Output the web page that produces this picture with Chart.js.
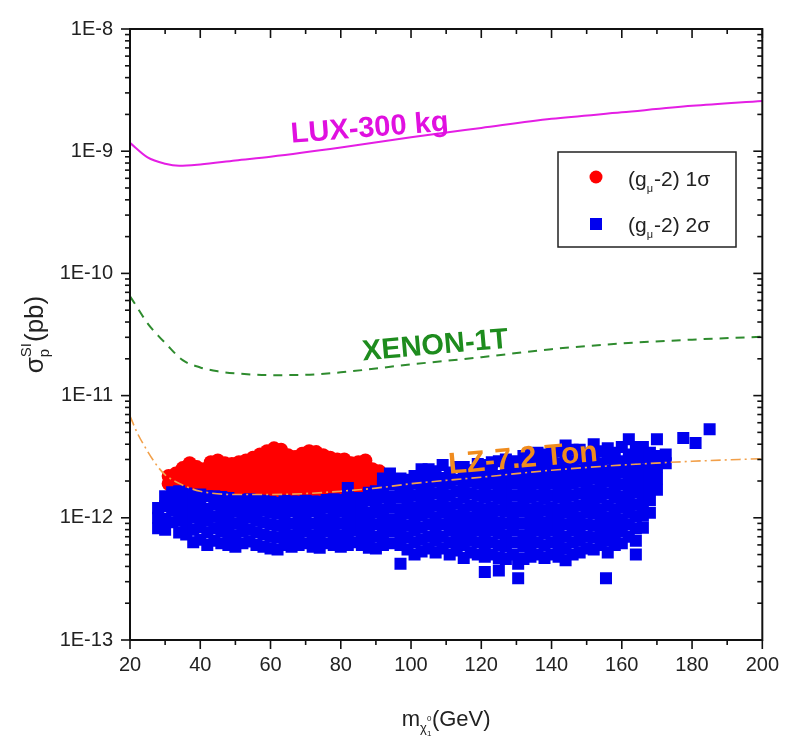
<!DOCTYPE html>
<html>
<head>
<meta charset="utf-8">
<script src="https://cdn.jsdelivr.net/npm/chart.js@4.4.1/dist/chart.umd.min.js"></script>
<style>
  html, body { margin: 0; background: #fff; }
  #wrap { width: 792px; height: 744px; }
</style>
</head>
<body>
<div id="wrap"><canvas id="chart" width="792" height="744"></canvas></div>
<script>
const FONT = '"Liberation Sans", Arial, sans-serif';

// axes
const X_MIN = 20, X_MAX = 200;
const X_TICKS = [20, 40, 60, 80, 100, 120, 140, 160, 180, 200];
const Y_DECADES = [1e-13, 1e-12, 1e-11, 1e-10, 1e-9, 1e-8];
const Y_LABELS = ['1E-13', '1E-12', '1E-11', '1E-10', '1E-9', '1E-8'];

// experimental limits (pb)
const LUX_X = [20, 25, 30, 34, 40, 50, 60, 80, 100, 120, 140, 160, 180, 200];
const LUX_Y = [1.17e-9, 8.9e-10, 7.9e-10, 7.6e-10, 7.8e-10, 8.4e-10, 9.0e-10, 1.07e-9, 1.3e-9, 1.55e-9, 1.84e-9, 2.08e-9, 2.35e-9, 2.58e-9];

const XENON_X = [20, 22, 25, 28, 30, 35, 40, 45, 50, 60, 70, 80, 100, 120, 140, 160, 180, 200];
const XENON_Y = [6.5e-11, 5.3e-11, 3.9e-11, 3.1e-11, 2.7e-11, 1.95e-11, 1.7e-11, 1.58e-11, 1.52e-11, 1.47e-11, 1.48e-11, 1.55e-11, 1.8e-11, 2.06e-11, 2.4e-11, 2.67e-11, 2.87e-11, 3.03e-11];

const LZ_X = [20, 22, 25, 28, 30, 35, 40, 50, 60, 70, 80, 90, 100, 120, 140, 160, 180, 200];
const LZ_Y = [6.8e-12, 5.0e-12, 3.5e-12, 2.6e-12, 2.25e-12, 1.85e-12, 1.65e-12, 1.55e-12, 1.55e-12, 1.58e-12, 1.65e-12, 1.75e-12, 1.9e-12, 2.15e-12, 2.45e-12, 2.7e-12, 2.9e-12, 3.05e-12];

// scan points: [mass, [sigma values in units of 1E-12 pb]]
const UNIT = 1e-12;
const RED_COLUMNS = [
  [31, [1.9, 2.2]],
  [33, [1.9, 2.3]],
  [35, [1.85, 2.2, 2.55]],
  [37, [1.9, 2.3, 2.8]],
  [39, [1.85, 2.2, 2.6]],
  [41, [1.8, 2.15, 2.5]],
  [43, [1.75, 2.1, 2.5, 2.85]],
  [45, [1.7, 2.05, 2.45, 2.95]],
  [47, [1.75, 2.1, 2.5, 2.8]],
  [49, [1.7, 2.0, 2.4, 2.75]],
  [51, [1.65, 2.0, 2.4, 2.85]],
  [53, [1.7, 2.05, 2.45, 2.95]],
  [55, [1.6, 1.95, 2.35, 2.8, 3.1]],
  [57, [1.55, 1.9, 2.3, 2.75, 3.3]],
  [59, [1.6, 1.95, 2.35, 2.8, 3.5]],
  [61, [1.55, 1.9, 2.3, 2.75, 3.2, 3.7]],
  [63, [1.6, 1.95, 2.35, 2.8, 3.3, 3.6]],
  [65, [1.55, 1.9, 2.3, 2.75, 3.25]],
  [67, [1.5, 1.85, 2.2, 2.65, 3.15]],
  [69, [1.55, 1.9, 2.3, 2.75, 3.35]],
  [71, [1.5, 1.85, 2.25, 2.7, 3.2, 3.5]],
  [73, [1.45, 1.8, 2.2, 2.65, 3.15, 3.45]],
  [75, [1.5, 1.85, 2.25, 2.7, 3.25]],
  [77, [1.4, 1.75, 2.15, 2.6, 3.1]],
  [79, [1.55, 1.9, 2.3, 2.75, 3.0]],
  [81, [1.6, 1.95, 2.35, 2.8, 3.0]],
  [83, [1.65, 2.0, 2.4, 2.8]],
  [85, [1.6, 1.95, 2.35, 2.85]],
  [87, [1.7, 2.05, 2.45, 2.95]],
  [89, [1.75, 2.1, 2.5]],
  [91, [1.8, 2.1, 2.4]],
];
const BLUE_COLUMNS = [
  [28, [0.82, 1.0, 1.2]],
  [30, [0.8, 0.98, 1.25, 1.5]],
  [32, [0.92, 1.15, 1.42, 1.62]],
  [34, [0.76, 0.95, 1.18, 1.45, 1.65]],
  [36, [0.73, 0.9, 1.1, 1.35, 1.58]],
  [38, [0.63, 0.8, 1.0, 1.25, 1.52]],
  [40, [0.66, 0.84, 1.05, 1.3, 1.55]],
  [42, [0.6, 0.76, 0.95, 1.18, 1.5]],
  [44, [0.65, 0.82, 1.02, 1.28, 1.5]],
  [46, [0.62, 0.78, 0.98, 1.22, 1.48]],
  [48, [0.6, 0.75, 0.94, 1.17, 1.45]],
  [50, [0.58, 0.72, 0.9, 1.12, 1.4]],
  [52, [0.62, 0.78, 0.98, 1.22, 1.4]],
  [54, [0.64, 0.8, 1.0, 1.2, 1.42]],
  [56, [0.6, 0.76, 0.95, 1.18, 1.4]],
  [58, [0.58, 0.73, 0.92, 1.15, 1.38]],
  [60, [0.56, 0.7, 0.88, 1.1, 1.35]],
  [62, [0.55, 0.69, 0.86, 1.08, 1.32]],
  [64, [0.6, 0.75, 0.94, 1.17, 1.38]],
  [66, [0.58, 0.72, 0.9, 1.13, 1.36]],
  [68, [0.6, 0.75, 0.94, 1.18, 1.35]],
  [70, [0.62, 0.78, 0.97, 1.2, 1.38]],
  [72, [0.58, 0.72, 0.9, 1.13, 1.36]],
  [74, [0.57, 0.71, 0.89, 1.11, 1.35]],
  [76, [0.62, 0.78, 0.97, 1.21, 1.4]],
  [78, [0.6, 0.75, 0.93, 1.16, 1.42]],
  [80, [0.58, 0.72, 0.9, 1.12, 1.4]],
  [82, [0.6, 0.75, 0.94, 1.17, 1.42, 1.75]],
  [84, [0.63, 0.79, 0.98, 1.22, 1.45]],
  [86, [0.6, 0.75, 0.94, 1.17, 1.45]],
  [88, [0.57, 0.71, 0.89, 1.11, 1.4, 1.6]],
  [90, [0.56, 0.7, 0.88, 1.1, 1.37, 1.65]],
  [92, [0.6, 0.75, 0.94, 1.17, 1.46, 1.82, 2.1]],
  [94, [0.62, 0.78, 0.97, 1.21, 1.5, 1.88, 2.3]],
  [97, [0.42, 0.6, 0.75, 0.94, 1.17, 1.46, 1.82, 2.1]],
  [99, [0.55, 0.69, 0.86, 1.08, 1.35, 1.68, 2.05]],
  [101, [0.5, 0.63, 0.79, 0.98, 1.22, 1.52, 1.9, 2.2]],
  [103, [0.53, 0.66, 0.83, 1.04, 1.3, 1.62, 2.0, 2.5]],
  [105, [0.56, 0.7, 0.88, 1.1, 1.37, 1.7, 2.12, 2.5]],
  [107, [0.52, 0.65, 0.81, 1.01, 1.26, 1.58, 1.97, 2.4]],
  [109, [0.56, 0.7, 0.88, 1.1, 1.37, 1.7, 2.12, 2.7]],
  [111, [0.5, 0.63, 0.79, 0.98, 1.22, 1.52, 1.9, 2.35]],
  [113, [0.54, 0.67, 0.84, 1.05, 1.31, 1.64, 2.05, 2.6]],
  [115, [0.47, 0.6, 0.75, 0.94, 1.17, 1.46, 1.82, 2.25, 2.6]],
  [117, [0.52, 0.65, 0.81, 1.01, 1.26, 1.58, 1.97, 2.45]],
  [119, [0.5, 0.63, 0.79, 0.98, 1.22, 1.52, 1.9, 2.35, 2.75]],
  [121, [0.36, 0.48, 0.6, 0.75, 0.94, 1.17, 1.46, 1.82, 2.25, 2.7]],
  [123, [0.5, 0.63, 0.79, 0.98, 1.22, 1.52, 1.9, 2.35, 2.85]],
  [125, [0.37, 0.47, 0.59, 0.74, 0.92, 1.15, 1.43, 1.78, 2.2, 2.9]],
  [127, [0.46, 0.58, 0.72, 0.9, 1.12, 1.4, 1.75, 2.18, 2.7, 3.0]],
  [129, [0.5, 0.63, 0.79, 0.98, 1.22, 1.52, 1.9, 2.35, 2.9]],
  [130.5, [0.32, 0.42]],
  [132, [0.46, 0.58, 0.72, 0.9, 1.12, 1.4, 1.75, 2.18, 2.7, 3.2]],
  [134, [0.48, 0.6, 0.75, 0.94, 1.17, 1.46, 1.82, 2.25, 2.8, 3.3]],
  [136, [0.5, 0.63, 0.79, 0.98, 1.22, 1.52, 1.9, 2.35, 2.9, 3.4]],
  [138, [0.47, 0.59, 0.74, 0.92, 1.15, 1.43, 1.78, 2.2, 2.75, 3.3]],
  [140, [0.5, 0.63, 0.79, 0.98, 1.22, 1.52, 1.9, 2.35, 2.9, 3.5]],
  [142, [0.48, 0.6, 0.75, 0.94, 1.17, 1.46, 1.82, 2.25, 2.8, 3.5]],
  [144, [0.45, 0.56, 0.7, 0.88, 1.1, 1.37, 1.7, 2.12, 2.65, 3.3, 3.9]],
  [146, [0.5, 0.63, 0.79, 0.98, 1.22, 1.52, 1.9, 2.35, 2.9, 3.6]],
  [148, [0.52, 0.65, 0.81, 1.01, 1.26, 1.58, 1.97, 2.45, 3.05, 3.6]],
  [150, [0.56, 0.7, 0.88, 1.1, 1.37, 1.7, 2.12, 2.65, 3.3]],
  [152, [0.55, 0.69, 0.86, 1.08, 1.35, 1.68, 2.1, 2.6, 3.2, 4.0]],
  [154, [0.6, 0.75, 0.94, 1.17, 1.46, 1.82, 2.25, 2.8, 3.5]],
  [155.5, [0.32]],
  [156, [0.52, 0.65, 0.81, 1.01, 1.26, 1.58, 1.97, 2.45, 3.05, 3.7]],
  [158, [0.6, 0.75, 0.94, 1.17, 1.46, 1.82, 2.25, 2.8, 3.4]],
  [160, [0.62, 0.78, 0.97, 1.21, 1.5, 1.88, 2.35, 2.9, 3.8]],
  [162, [0.7, 0.88, 1.1, 1.37, 1.7, 2.12, 2.65, 3.3, 4.4]],
  [164, [0.5, 0.65, 0.82, 1.03, 1.28, 1.6, 2.0, 2.5, 3.1, 3.8]],
  [166, [0.83, 1.04, 1.3, 1.62, 2.0, 2.5, 3.1, 3.8]],
  [168, [1.1, 1.4, 1.75, 2.2, 2.75, 3.4]],
  [170, [1.7, 2.1, 2.6, 3.2, 4.4]],
  [172.5, [2.8, 3.3]],
  [177.5, [4.5]],
  [181, [4.1]],
  [185, [5.3]],
];

const pts = (xs, ys) => xs.map((x, i) => ({ x, y: ys[i] }));
const cols = c => c.flatMap(([x, ys]) => ys.map(v => ({ x, y: v * UNIT })));

// ── curve labels, frame, ticks, titles, legend ─────────────────────────────
const decor = {
  id: 'decor',
  afterDraw(chart) {
    const { ctx, chartArea: a, scales: { x, y } } = chart;
    ctx.save();

    function curveLabel(text, xv, yv, deg, color, size) {
      ctx.save();
      ctx.translate(x.getPixelForValue(xv), y.getPixelForValue(yv));
      ctx.rotate(deg * Math.PI / 180);
      ctx.font = `bold ${size}px ${FONT}`;
      ctx.fillStyle = color;
      ctx.textAlign = 'left';
      ctx.textBaseline = 'alphabetic';
      ctx.fillText(text, 0, 0);
      ctx.restore();
    }
    curveLabel('LUX-300 kg', 66, 1.17e-9, -4.5, '#e010e0', 29);
    curveLabel('XENON-1T', 86.3, 1.94e-11, -5, '#1e8c1e', 29);
    curveLabel('LZ-7.2 Ton', 110.9, 2.29e-12, -5, '#f08c1e', 30);

    // frame
    ctx.strokeStyle = '#111';
    ctx.lineWidth = 2;
    ctx.strokeRect(a.left, a.top, a.right - a.left, a.bottom - a.top);

    const seg = (x1, y1, x2, y2) => { ctx.beginPath(); ctx.moveTo(x1, y1); ctx.lineTo(x2, y2); ctx.stroke(); };
    ctx.lineWidth = 1.6;
    for (let v = X_MIN; v <= X_MAX; v += 10) {
      const px = x.getPixelForValue(v);
      const L = v % 20 === 0 ? 9 : 5;
      seg(px, a.bottom, px, a.bottom + L);
      seg(px, a.top, px, a.top + L);
    }
    Y_DECADES.forEach((d, i) => {
      const py = y.getPixelForValue(d);
      seg(a.left - 9, py, a.left, py);
      seg(a.right - 9, py, a.right, py);
      if (i === Y_DECADES.length - 1) return;
      for (let k = 2; k <= 9; k++) {
        const pm = y.getPixelForValue(d * k);
        seg(a.left - 5, pm, a.left, pm);
        seg(a.right - 5, pm, a.right, pm);
      }
    });

    // x title
    ctx.fillStyle = '#222';
    ctx.textBaseline = 'alphabetic';
    ctx.textAlign = 'left';
    ctx.font = `22px ${FONT}`;
    const wM = ctx.measureText('m').width, wG = ctx.measureText('(GeV)').width;
    ctx.font = `13px ${FONT}`;
    const wC = ctx.measureText('\u03C7').width + 5;
    let cx = (a.left + a.right) / 2 - (wM + wC + wG) / 2;
    const by = 726;
    ctx.font = `22px ${FONT}`; ctx.fillText('m', cx, by); cx += wM;
    ctx.font = `13px ${FONT}`; ctx.fillText('\u03C7', cx, by + 6);
    ctx.font = `8px ${FONT}`;
    ctx.fillText('0', cx + 7, by - 5);
    ctx.fillText('1', cx + 7, by + 10);
    cx += wC;
    ctx.font = `22px ${FONT}`; ctx.fillText('(GeV)', cx, by);

    // y title
    ctx.save();
    ctx.translate(43, (a.top + a.bottom) / 2);
    ctx.rotate(-Math.PI / 2);
    ctx.font = `26px ${FONT}`;
    const wS = ctx.measureText('\u03C3').width, wP = ctx.measureText('(pb)').width;
    ctx.font = `15px ${FONT}`;
    const wSI = ctx.measureText('SI').width + 1;
    let tx = -(wS + wSI + wP) / 2;
    ctx.font = `26px ${FONT}`; ctx.fillText('\u03C3', tx, 0); tx += wS;
    ctx.font = `15px ${FONT}`;
    ctx.fillText('SI', tx, -12);
    ctx.fillText('p', tx, 6);
    tx += wSI;
    ctx.font = `26px ${FONT}`; ctx.fillText('(pb)', tx, 0);
    ctx.restore();

    // legend
    const lx = 558, ly = 152, lw = 178, lh = 95;
    ctx.fillStyle = '#fff';
    ctx.fillRect(lx, ly, lw, lh);
    ctx.strokeStyle = '#222';
    ctx.lineWidth = 1.5;
    ctx.strokeRect(lx, ly, lw, lh);
    ctx.fillStyle = '#ff0000';
    ctx.beginPath(); ctx.arc(lx + 38, ly + 25, 6.5, 0, Math.PI * 2); ctx.fill();
    ctx.fillStyle = '#0000ee';
    ctx.fillRect(lx + 32, ly + 66, 12, 12);
    function entry(label, yb) {
      let ex = lx + 70;
      ctx.fillStyle = '#222';
      ctx.font = `21px ${FONT}`; ctx.fillText('(g', ex, yb); ex += ctx.measureText('(g').width;
      ctx.font = `11px ${FONT}`; ctx.fillText('\u03BC', ex, yb + 6); ex += ctx.measureText('\u03BC').width + 1;
      ctx.font = `21px ${FONT}`; ctx.fillText('-2) ' + label, ex, yb);
    }
    entry('1\u03C3', ly + 34);
    entry('2\u03C3', ly + 80);

    ctx.restore();
  }
};

new Chart(document.getElementById('chart'), {
  type: 'scatter',
  plugins: [decor],
  data: {
    datasets: [
      { label: 'LUX-300 kg', data: pts(LUX_X, LUX_Y), showLine: true, borderColor: '#e41ee4', borderWidth: 2,
        pointRadius: 0, cubicInterpolationMode: 'monotone', order: 0 },
      { label: 'XENON-1T', data: pts(XENON_X, XENON_Y), showLine: true, borderColor: '#2e8b2e', borderWidth: 2,
        borderDash: [9, 7], pointRadius: 0, cubicInterpolationMode: 'monotone', order: 0 },
      { label: 'LZ-7.2 Ton', data: pts(LZ_X, LZ_Y), showLine: true, borderColor: '#f2a04a', borderWidth: 1.6,
        borderDash: [10, 4, 2, 4], pointRadius: 0, cubicInterpolationMode: 'monotone', order: 0 },
      { label: '(g\u03BC-2) 1\u03C3', data: cols(RED_COLUMNS), pointStyle: 'circle', pointRadius: 7,
        backgroundColor: '#ff0000', borderWidth: 0, order: 2 },
      { label: '(g\u03BC-2) 2\u03C3', data: cols(BLUE_COLUMNS), pointStyle: 'rect', pointRadius: 8.5,
        backgroundColor: '#0000ee', borderWidth: 0, order: 1 },
    ]
  },
  options: {
    responsive: false,
    animation: false,
    layout: { padding: { left: 0, top: 22, right: 24, bottom: 0 } },
    scales: {
      x: {
        type: 'linear', min: X_MIN, max: X_MAX,
        afterBuildTicks: s => { s.ticks = X_TICKS.map(v => ({ value: v })); },
        afterFit: s => { s.height = 104; },
        grid: { display: false, drawTicks: false },
        border: { display: false },
        ticks: { color: '#222', font: { family: FONT, size: 20 }, padding: 13, maxRotation: 0 },
      },
      y: {
        type: 'logarithmic', min: 1e-13, max: 1e-8,
        afterBuildTicks: s => { s.ticks = Y_DECADES.map(v => ({ value: v })); },
        afterFit: s => { s.width = 130; },
        grid: { display: false, drawTicks: false },
        border: { display: false },
        ticks: {
          color: '#222', font: { family: FONT, size: 20 }, padding: 17,
          callback: v => Y_LABELS[Y_DECADES.findIndex(d => Math.abs(d - v) / d < 1e-6)] || '',
        },
      }
    },
    plugins: { legend: { display: false }, tooltip: { enabled: false } }
  }
});
</script>
</body>
</html>
